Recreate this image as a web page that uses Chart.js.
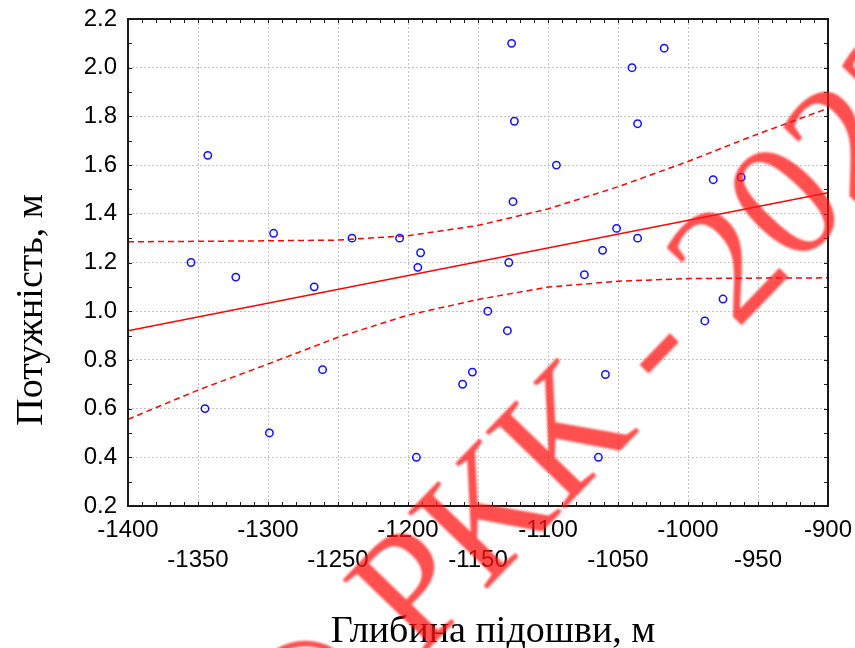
<!DOCTYPE html>
<html lang="uk">
<head>
<meta charset="utf-8">
<title>Потужність – глибина підошви</title>
<script src="https://cdn.jsdelivr.net/npm/chart.js@4.4.1/dist/chart.umd.min.js"></script>
<style>
  html, body { margin: 0; padding: 0; background: #fff; }
  #wrap { position: relative; width: 855px; height: 648px; }
</style>
</head>
<body>
<div id="wrap"><canvas id="chart"></canvas></div>
<script>
// Floor depth (m) and seam thickness (m) per borehole
const depth = [
  -1355, -1343, -1345, -1323, -1299, -1296, -1267, -1261, -1240, -1206,
  -1193, -1191, -1194, -1161, -1154, -1143, -1129, -1128, -1126, -1124,
  -1125, -1094, -1074, -1064, -1061, -1059, -1051, -1040, -1036, -1036,
  -1017, -988, -982, -975, -962
];
const thickness = [
  1.20, 1.64, 0.60, 1.14, 0.50, 1.32, 1.10, 0.76, 1.30, 1.30,
  1.18, 1.24, 0.40, 0.70, 0.75, 1.00, 0.92, 1.20, 2.10, 1.78,
  1.45, 1.60, 1.15, 0.40, 1.25, 0.74, 1.34, 2.00, 1.77, 1.30,
  2.08, 0.96, 1.54, 1.05, 1.55
];

// Regression line and its confidence band
const fitDepth = [-1400, -900];
const fitThickness = [0.92, 1.487];
const bandDepth = [-1400, -1350, -1300, -1250, -1200, -1150, -1100, -1050, -1000, -950, -900];
const bandUpper = [1.285, 1.287, 1.289, 1.292, 1.31, 1.352, 1.42, 1.511, 1.615, 1.728, 1.833];
const bandLower = [0.556, 0.676, 0.783, 0.893, 0.984, 1.048, 1.099, 1.123, 1.134, 1.136, 1.137];

// Axes
const xMin = -1400, xMax = -900, xStep = 50, xMinor = 10;
const yMin = 0.2, yMax = 2.2, yStep = 0.2, yMinor = 0.1;
const xTitle = "Глибина підошви, м";
const yTitle = "Потужність, м";
const stamp = "© РКК - 2023";

const toPoints = (xs, ys) => xs.map((x, i) => ({ x: x, y: ys[i] }));

const RED = "#ff0000";
const BLUE = "#1010ff";

// Frame, inward minor ticks and axis titles
const framePlugin = {
  id: "frame",
  afterDatasetsDraw(chart) {
    const { ctx, chartArea: a, scales: { x, y } } = chart;
    ctx.save();
    ctx.strokeStyle = "#1a1a1a";
    ctx.lineWidth = 1;
    ctx.beginPath();
    for (let v = xMin; v <= xMax + 0.001; v += xMinor) {
      const px = Math.round(x.getPixelForValue(v)) + 0.5;
      ctx.moveTo(px, a.bottom); ctx.lineTo(px, a.bottom - 4);
      ctx.moveTo(px, a.top); ctx.lineTo(px, a.top + 4);
    }
    for (let v = yMin; v <= yMax + 0.001; v += yMinor) {
      const py = Math.round(y.getPixelForValue(v)) + 0.5;
      ctx.moveTo(a.left, py); ctx.lineTo(a.left + 4, py);
      ctx.moveTo(a.right, py); ctx.lineTo(a.right - 4, py);
    }
    ctx.stroke();
    ctx.lineWidth = 2;
    ctx.strokeRect(a.left, a.top, a.right - a.left, a.bottom - a.top);

    ctx.fillStyle = "#000";
    ctx.font = '38px "Liberation Serif", "Times New Roman", serif';
    ctx.textAlign = "center";
    ctx.textBaseline = "alphabetic";
    ctx.fillText(xTitle, 493, 642);
    ctx.translate(42, 310);
    ctx.rotate(-Math.PI / 2);
    ctx.fillText(yTitle, 0, 0);
    ctx.restore();
  },
  afterDraw(chart) {
    // diagonal copyright stamp over the plot, hyphen centred at (660, 354)
    const { ctx } = chart;
    const size = 168;
    ctx.save();
    ctx.font = size + 'px "Liberation Serif", "Times New Roman", serif';
    const pre = ctx.measureText("© РКК ").width;
    const dash = ctx.measureText("-").width;
    ctx.translate(660, 354);
    ctx.rotate(-46 * Math.PI / 180);
    ctx.filter = "blur(1.2px)";
    ctx.fillStyle = "rgba(255, 20, 20, 0.75)";
    ctx.textBaseline = "alphabetic";
    ctx.textAlign = "left";
    ctx.fillText(stamp, -(pre + dash / 2), 0.23 * size);
    ctx.restore();
  }
};

new Chart(document.getElementById("chart"), {
  type: "scatter",
  data: {
    datasets: [
      {
        data: toPoints(depth, thickness),
        pointStyle: "circle",
        pointRadius: 3.7,
        borderWidth: 1.5,
        borderColor: BLUE,
        backgroundColor: "rgba(0,0,0,0)"
      },
      {
        data: toPoints(fitDepth, fitThickness),
        showLine: true,
        borderColor: RED,
        borderWidth: 1.5,
        pointRadius: 0
      },
      {
        data: toPoints(bandDepth, bandUpper),
        showLine: true,
        borderColor: RED,
        borderWidth: 1.5,
        borderDash: [6, 4],
        pointRadius: 0
      },
      {
        data: toPoints(bandDepth, bandLower),
        showLine: true,
        borderColor: RED,
        borderWidth: 1.5,
        borderDash: [6, 4],
        pointRadius: 0
      }
    ]
  },
  options: {
    responsive: true,
    maintainAspectRatio: false,
    animation: false,
    layout: { padding: { top: 19, right: 27, left: 0, bottom: 0 } },
    plugins: { legend: { display: false }, tooltip: { enabled: false } },
    scales: {
      x: {
        type: "linear",
        min: xMin,
        max: xMax,
        afterFit(scale) {
          scale.height = 142;
          scale.paddingLeft = 0;
          scale.paddingRight = 0;
        },
        grid: { color: "#c4c4c4", lineWidth: 1, drawTicks: false },
        border: { display: false, dash: [2, 2] },
        ticks: {
          stepSize: xStep,
          autoSkip: false,
          maxRotation: 0,
          padding: 10,
          color: "#000",
          font: { family: '"Liberation Sans", Arial, sans-serif', size: 24, lineHeight: 1.23 },
          // alternate labels drop to a second row
          callback: (v, i) => (i % 2 === 0 ? String(v) : ["", String(v)])
        }
      },
      y: {
        type: "linear",
        min: yMin,
        max: yMax,
        afterFit(scale) {
          scale.width = 128;
          scale.paddingTop = 0;
          scale.paddingBottom = 0;
        },
        grid: { color: "#c4c4c4", lineWidth: 1, drawTicks: false },
        border: { display: false, dash: [2, 2] },
        ticks: {
          stepSize: yStep,
          padding: 11,
          color: "#000",
          font: { family: '"Liberation Sans", Arial, sans-serif', size: 24 },
          callback: (v) => v.toFixed(1)
        }
      }
    }
  },
  plugins: [framePlugin]
});
</script>
</body>
</html>
